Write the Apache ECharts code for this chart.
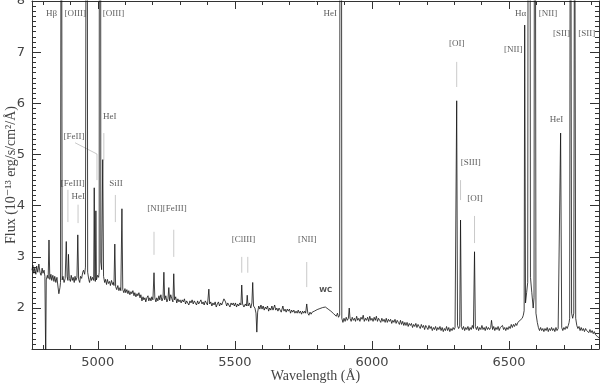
<!DOCTYPE html>
<html>
<head>
<meta charset="utf-8">
<script src="https://cdn.jsdelivr.net/npm/echarts@6/dist/echarts.min.js"></script>
<style>
  html, body { margin: 0; padding: 0; background: #fff; }
  #chart { width: 600px; height: 384px; }
</style>
</head>
<body>
<div id="chart"></div>
<script>
// spectrum: [wavelength (A), flux (1e-13 erg/s/cm2/A)]
const spectrum = [
  [4760,2.74],[4763,2.84],[4767,2.68],[4770,2.78],[4774,2.66],[4777,2.82],[4781,2.70],[4785,2.86],
  [4789,2.70],[4793,2.64],[4797,2.78],[4800,2.68],[4804,2.74],[4807,2.62],[4810,1.00],[4812,2.55],
  [4816,2.64],[4819,2.58],[4822,3.33],[4825,2.56],[4829,2.66],[4832,2.54],[4836,2.64],[4840,2.52],
  [4843,2.62],[4847,2.50],[4851,2.60],[4854,2.45],[4858,2.28],[4862,2.40],[4864,2.50],[4867,15],
  [4870,2.55],[4873,2.62],[4877,2.50],[4881,2.58],[4885,3.30],[4888,2.62],[4891,2.54],[4893,3.05],
  [4896,2.58],[4900,2.52],[4903,2.64],[4907,2.54],[4910,2.60],[4914,2.50],[4917,2.62],[4920,2.54],
  [4924,2.60],[4927,3.43],[4930,2.56],[4934,2.50],[4937,2.62],[4941,2.58],[4945,2.70],[4948,2.74],
  [4952,2.66],[4955,2.80],[4957,2.82],[4960,20],[4963,2.70],[4967,2.56],[4970,2.50],[4974,2.62],
  [4977,2.54],[4981,2.60],[4985,2.54],[4987,4.35],[4989,2.60],[4991,2.52],[4993,3.90],[4995,2.55],
  [4999,2.64],[5003,2.60],[5005,2.70],[5008,40],[5011,2.90],[5014,2.75],[5018,4.90],[5021,2.62],
  [5025,2.50],[5028,2.56],[5032,2.46],[5035,2.56],[5039,2.48],[5043,2.52],[5046,2.44],[5050,2.54],
  [5054,2.46],[5057,2.50],[5059,2.44],[5062,3.25],[5065,2.42],[5069,2.36],[5073,2.44],[5077,2.34],
  [5081,2.40],[5084,2.34],[5088,3.94],[5091,2.36],[5095,2.30],[5099,2.38],[5102,2.30],[5106,2.36],
  [5110,2.28],[5113,2.34],[5117,2.26],[5121,2.32],[5124,2.28],[5128,2.34],[5132,2.24],[5135,2.30],
  [5139,2.22],[5143,2.28],[5146,2.24],[5150,2.30],[5154,2.20],[5157,2.26],[5161,2.14],[5165,2.22],
  [5168,2.16],[5172,2.20],[5175,2.12],[5179,2.20],[5183,2.24],[5186,2.14],[5190,2.20],[5194,2.14],
  [5197,2.22],[5201,2.16],[5205,2.69],[5208,2.20],[5212,2.12],[5215,2.20],[5219,2.14],[5223,2.24],
  [5226,2.16],[5230,2.26],[5234,2.14],[5238,2.20],[5241,2.70],[5244,2.16],[5248,2.24],[5252,2.12],
  [5256,2.18],[5259,2.40],[5262,2.14],[5266,2.26],[5270,2.18],[5274,2.12],[5277,2.67],[5280,2.16],
  [5284,2.22],[5288,2.10],[5292,2.18],[5296,2.12],[5300,2.16],[5304,2.10],[5308,2.16],[5312,2.12],
  [5316,2.18],[5320,2.08],[5324,2.14],[5328,2.10],[5332,2.06],[5336,2.14],[5340,2.10],[5344,2.16],
  [5348,2.08],[5352,2.14],[5356,2.10],[5360,2.06],[5364,2.14],[5368,2.08],[5372,2.12],[5376,2.16],
  [5380,2.08],[5384,2.12],[5388,2.06],[5392,2.14],[5396,2.10],[5400,2.06],[5405,2.37],[5408,2.08],
  [5412,2.12],[5416,2.04],[5420,2.10],[5424,2.06],[5428,2.12],[5432,2.02],[5436,2.08],[5440,2.12],
  [5444,2.04],[5448,2.10],[5452,2.06],[5456,2.12],[5460,2.18],[5463,2.20],[5466,2.12],[5470,2.04],
  [5474,2.10],[5478,2.06],[5482,2.02],[5486,2.10],[5490,2.06],[5494,2.10],[5498,2.04],[5502,2.10],
  [5506,2.02],[5510,2.08],[5514,2.04],[5518,2.10],[5522,2.06],[5525,2.45],[5528,2.08],[5533,2.02],
  [5538,2.08],[5542,2.04],[5545,2.25],[5548,2.04],[5553,2.10],[5558,2.00],[5562,2.10],[5565,2.50],
  [5568,2.04],[5573,2.00],[5577,1.90],[5580,1.53],[5583,1.92],[5587,2.04],[5591,1.98],[5595,2.06],
  [5599,1.98],[5603,2.04],[5607,1.96],[5611,2.02],[5615,1.98],[5619,2.04],[5623,1.94],[5627,2.00],
  [5631,1.96],[5635,2.04],[5639,1.96],[5645,2.06],[5649,1.96],[5653,2.00],[5657,1.94],[5661,2.00],
  [5665,1.96],[5669,1.92],[5675,2.04],[5679,1.94],[5683,1.98],[5687,1.92],[5691,1.98],[5695,1.94],
  [5699,1.98],[5703,1.90],[5707,1.96],[5711,1.92],[5715,1.96],[5719,1.90],[5723,1.94],[5727,1.90],
  [5731,1.96],[5735,1.90],[5739,1.94],[5743,1.88],[5747,1.94],[5751,1.90],[5755,1.94],[5758,1.90],
  [5762,2.08],[5766,1.90],[5770,1.86],[5774,1.92],[5778,1.88],[5782,1.92],[5786,1.90],[5790,1.94],
  [5795,1.93],[5800,1.97],[5805,1.95],[5810,1.99],[5815,1.98],[5820,2.01],[5825,1.99],[5830,2.02],
  [5835,2.00],[5840,1.98],[5845,1.97],[5850,1.94],[5855,1.93],[5860,1.89],[5865,1.87],[5870,1.84],
  [5874,1.90],[5878,1.82],[5882,1.86],[5886,30],[5890,1.80],[5894,1.72],[5898,1.80],[5902,1.74],
  [5906,1.82],[5910,1.76],[5914,1.80],[5917,2.00],[5920,1.80],[5924,1.74],[5928,1.82],[5932,1.76],
  [5936,1.80],[5940,1.74],[5944,1.84],[5948,1.76],[5952,1.80],[5956,1.74],[5960,1.82],[5964,1.78],
  [5968,1.86],[5972,1.74],[5976,1.80],[5980,1.76],[5984,1.82],[5988,1.74],[5992,1.84],[5996,1.76],
  [6000,1.80],[6004,1.74],[6008,1.82],[6012,1.76],[6016,1.84],[6020,1.74],[6024,1.80],[6028,1.76],
  [6032,1.72],[6036,1.80],[6040,1.74],[6044,1.78],[6048,1.72],[6052,1.80],[6056,1.72],[6060,1.78],
  [6064,1.74],[6068,1.78],[6072,1.70],[6076,1.76],[6080,1.72],[6084,1.78],[6088,1.70],[6092,1.76],
  [6096,1.72],[6100,1.68],[6104,1.76],[6108,1.68],[6112,1.74],[6116,1.66],[6120,1.72],[6124,1.66],
  [6128,1.72],[6132,1.64],[6136,1.70],[6140,1.66],[6144,1.70],[6148,1.62],[6152,1.68],[6156,1.64],
  [6160,1.70],[6164,1.62],[6168,1.68],[6172,1.64],[6176,1.60],[6180,1.68],[6184,1.62],[6188,1.66],
  [6192,1.58],[6196,1.66],[6200,1.62],[6204,1.58],[6208,1.66],[6212,1.60],[6216,1.64],[6220,1.56],
  [6224,1.62],[6228,1.58],[6232,1.64],[6236,1.56],[6240,1.62],[6244,1.58],[6248,1.64],[6252,1.56],
  [6256,1.62],[6260,1.54],[6264,1.60],[6268,1.56],[6272,1.64],[6276,1.56],[6280,1.62],[6284,1.54],
  [6288,1.60],[6292,1.56],[6296,1.62],[6300,1.58],[6303,1.62],[6306,1.64],[6309,6.05],[6312,1.66],
  [6316,1.60],[6320,1.64],[6323,3.72],[6326,1.64],[6330,1.58],[6334,1.64],[6338,1.56],[6342,1.62],
  [6346,1.58],[6350,1.64],[6354,1.56],[6358,1.62],[6362,1.58],[6366,1.66],[6370,1.60],[6374,3.10],
  [6377,1.64],[6381,1.58],[6385,1.64],[6389,1.56],[6393,1.62],[6397,1.58],[6401,1.66],[6405,1.58],
  [6409,1.62],[6413,1.56],[6417,1.64],[6421,1.58],[6425,1.62],[6429,1.58],[6433,1.62],[6436,1.76],
  [6440,1.58],[6444,1.64],[6448,1.56],[6452,1.62],[6456,1.58],[6460,1.64],[6464,1.56],[6468,1.62],
  [6472,1.60],[6476,1.66],[6480,1.58],[6484,1.62],[6488,1.56],[6492,1.62],[6496,1.58],[6500,1.64],
  [6504,1.60],[6508,1.68],[6512,1.62],[6516,1.68],[6520,1.64],[6524,1.70],[6528,1.66],[6532,1.72],
  [6536,1.70],[6540,1.76],[6544,1.74],[6548,1.80],[6552,1.86],[6555,1.95],[6557,7.53],[6560,2.10],
  [6564,2.30],[6568,2.50],[6573,30],[6578,2.60],[6583,2.30],[6588,2.00],[6591,2.20],[6594,20],
  [6598,1.90],[6603,1.72],[6607,1.62],[6611,1.56],[6615,1.62],[6619,1.56],[6623,1.60],[6627,1.54],
  [6631,1.60],[6635,1.56],[6639,1.62],[6643,1.54],[6647,1.60],[6651,1.56],[6655,1.62],[6659,1.56],
  [6663,1.60],[6667,1.54],[6671,1.62],[6675,1.56],[6679,1.60],[6684,1.62],[6688,5.42],[6692,1.62],
  [6696,1.56],[6700,1.62],[6704,1.58],[6708,1.64],[6712,1.60],[6716,1.66],[6719,1.72],[6721,1.80],
  [6724,15],[6728,1.90],[6732,1.80],[6736,1.90],[6739,12],[6743,1.80],[6747,1.66],[6751,1.60],
  [6755,1.64],[6759,1.56],[6763,1.62],[6767,1.56],[6771,1.60],[6775,1.54],[6779,1.60],[6783,1.56],
  [6787,1.58],[6791,1.52],[6795,1.58],[6799,1.52],[6803,1.56],[6807,1.50],[6811,1.54],[6815,1.48],
  [6819,1.50],[6823,1.44],[6828,1.42]
];

// line identifications: [wavelength, flux, text]
const lineLabels = [
  [4831, 7.75, 'Hβ'], [4918, 7.75, '[OIII]'], [5057, 7.75, '[OIII]'], [5848, 7.75, 'HeI'],
  [6542, 7.75, 'Hα'], [6642, 7.75, '[NII]'], [6515, 7.04, '[NII]'], [6309, 7.16, '[OI]'],
  [6691, 7.36, '[SII]'], [6783, 7.36, '[SII]'], [6673, 5.68, 'HeI'], [6360, 4.84, '[SIII]'],
  [6376, 4.13, '[OI]'], [5044, 5.75, 'HeI'], [4913, 5.34, '[FeII]'], [4909, 4.44, '[FeIII]'],
  [4929, 4.17, 'HeI'], [5066, 4.44, 'SiII'], [5252, 3.94, '[NI][FeIII]'], [5531, 3.33, '[ClIII]'],
  [5764, 3.33, '[NII]']
];

// pointer segments under the labels: list of [wavelength, flux] vertices
const pointers = [
  [[4891, 4.31], [4891, 3.68]],
  [[4928, 4.02], [4928, 3.66]],
  [[5022, 5.42], [5022, 4.89]],
  [[4917, 5.23], [4997, 5.01], [4997, 4.50]],
  [[5064, 4.21], [5064, 3.68]],
  [[5205, 3.49], [5205, 3.04]],
  [[5277, 3.53], [5277, 3.00]],
  [[5525, 3.00], [5525, 2.69]],
  [[5547, 3.00], [5547, 2.69]],
  [[5762, 2.90], [5762, 2.41]],
  [[6309, 6.81], [6309, 6.32]],
  [[6323, 4.50], [6323, 4.11]],
  [[6374, 3.80], [6374, 3.27]]
];

const xRange = [4760, 6828];
const yRange = [1.2, 8];
const xMajor = [5000, 5500, 6000, 6500];
const yMajor = [2, 3, 4, 5, 6, 7, 8];

const xMinor = [];
for (let w = 4800; w < xRange[1]; w += 100) if (xMajor.indexOf(w) < 0) xMinor.push(w);
const yMinor = [];
for (let k = 13; k < 80; k++) if (k % 10) yMinor.push(k / 10);

const axisColor = '#333';
const serif = '"Liberation Serif", "DejaVu Serif", serif';
const plain = v => String(v);

function xAx(pos, ticks, len, labels, line) {
  return {
    type: 'value', position: pos, min: xRange[0], max: xRange[1],
    axisLine: { show: line, onZero: false, lineStyle: { color: axisColor, width: 1 } },
    axisTick: { show: true, inside: true, length: len, customValues: ticks, lineStyle: { color: axisColor } },
    axisLabel: { show: labels, customValues: ticks, formatter: plain, color: '#444', fontSize: 13, margin: 7,
      fontFamily: '"DejaVu Sans", sans-serif' },
    splitLine: { show: false }
  };
}
function yAx(pos, ticks, len, labels, line) {
  return {
    type: 'value', position: pos, min: yRange[0], max: yRange[1],
    axisLine: { show: line, onZero: false, lineStyle: { color: axisColor, width: 1 } },
    axisTick: { show: true, inside: true, length: len, customValues: ticks, lineStyle: { color: axisColor } },
    axisLabel: { show: labels, customValues: ticks, formatter: plain, color: '#444', fontSize: 13, margin: 7,
      fontFamily: '"DejaVu Sans", sans-serif' },
    splitLine: { show: false }
  };
}

const xAxes = [
  xAx('bottom', xMajor, 8, true, true),
  xAx('bottom', xMinor, 4, false, false),
  xAx('top', xMajor, 8, false, true),
  xAx('top', xMinor, 4, false, false)
];
Object.assign(xAxes[0], {
  name: 'Wavelength (Å)', nameLocation: 'middle', nameGap: 20, nameMoveOverlap: false,
  nameTextStyle: { fontFamily: serif, fontSize: 14, color: '#444' }
});
const yAxes = [
  yAx('left', yMajor, 9, true, true),
  yAx('left', yMinor, 4, false, false),
  yAx('right', yMajor, 9, false, true),
  yAx('right', yMinor, 4, false, false)
];
Object.assign(yAxes[0], {
  name: 'Flux (10⁻¹³ erg/s/cm²/Å)', nameLocation: 'middle', nameGap: 14, nameMoveOverlap: false,
  nameTextStyle: { fontFamily: serif, fontSize: 14, color: '#444' }
});

const chart = echarts.init(document.getElementById('chart'));
chart.setOption({
  animation: false,
  backgroundColor: '#fff',
  grid: { left: 32, right: 1, top: 1, bottom: 35, outerBoundsMode: 'none', containLabel: false },
  xAxis: xAxes,
  yAxis: yAxes,
  series: [
    {
      type: 'line',
      data: spectrum,
      showSymbol: false,
      clip: true,
      lineStyle: { color: '#111', width: 0.8 }
    },
    {
      type: 'lines',
      coordinateSystem: 'cartesian2d',
      polyline: true,
      data: pointers.map(c => ({ coords: c })),
      lineStyle: { color: '#777', width: 0.8 },
      silent: true
    },
    {
      type: 'scatter',
      symbolSize: 0,
      data: lineLabels.map(l => ({ value: [l[0], l[1]], name: l[2] })),
      label: {
        show: true, position: 'inside', formatter: '{b}',
        fontFamily: serif, fontSize: 9, color: '#333'
      },
      silent: true
    },
    {
      type: 'scatter',
      symbolSize: 0,
      data: [{ value: [5831, 2.34], name: 'WC' }],
      label: {
        show: true, position: 'inside', formatter: '{b}',
        fontFamily: '"DejaVu Sans", sans-serif', fontSize: 7, fontWeight: 'bold', color: '#222'
      },
      silent: true
    }
  ]
});
</script>
</body>
</html>
